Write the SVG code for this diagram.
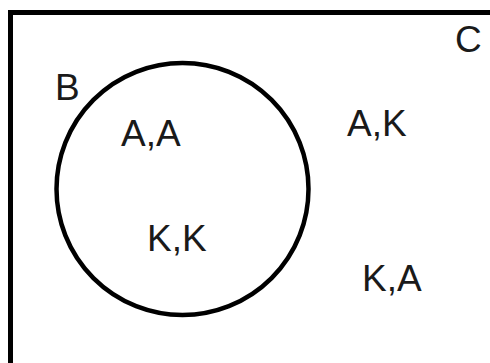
<svg xmlns="http://www.w3.org/2000/svg" width="490" height="363" viewBox="0 0 490 363">
<style>
  .frame { fill: none; stroke: #000; stroke-width: 5; }
  .set { fill: none; stroke: #000; stroke-width: 4.5; }
  .lbl { font-family: "Liberation Sans", Arial, sans-serif; font-size: 37px; fill: #1a1a1a; }
</style>
<rect x="0" y="0" width="490" height="363" fill="#ffffff"/>
<!-- universal set C -->
<g id="setC">
  <rect class="frame" x="10.5" y="12.5" width="500" height="370"/>
  <text class="lbl" x="455" y="52">C</text>
</g>
<!-- subset B -->
<g id="setB">
  <circle class="set" cx="182.5" cy="189" r="126"/>
  <text class="lbl" x="55" y="100">B</text>
</g>
<g id="outcomes">
  <text class="lbl" x="121" y="146">A,A</text>
  <text class="lbl" x="147" y="251">K,K</text>
  <text class="lbl" x="347" y="136">A,K</text>
  <text class="lbl" x="362" y="291">K,A</text>
</g>
</svg>
